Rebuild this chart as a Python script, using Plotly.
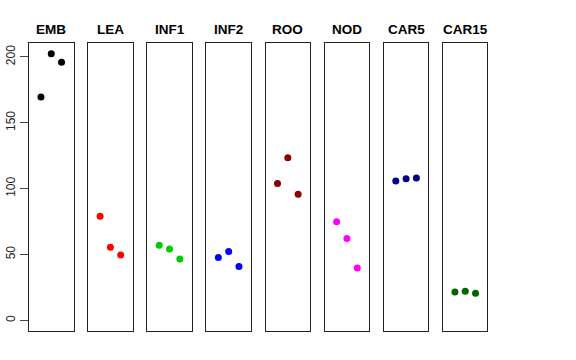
import plotly.graph_objects as go

groups = ["EMB", "LEA", "INF1", "INF2", "ROO", "NOD", "CAR5", "CAR15"]
colors = ["#000000", "#FF0000", "#00CD00", "#0000FF", "#8B0000", "#FF00FF", "#00008B", "#006400"]
xpos = [1, 2, 3]
values = {
    "EMB": [169.6, 202.5, 196.0],
    "LEA": [79.1, 55.5, 49.7],
    "INF1": [57.0, 54.2, 46.6],
    "INF2": [47.7, 52.2, 40.8],
    "ROO": [103.9, 123.4, 95.8],
    "NOD": [74.8, 62.1, 39.8],
    "CAR5": [105.9, 107.5, 108.0],
    "CAR15": [21.5, 22.0, 20.5],
}
yticks = [0, 50, 100, 150, 200]

W, H = 576, 360
fig = go.Figure()
layout = dict(width=W, height=H, margin=dict(l=0, r=0, t=0, b=0, autoexpand=False),
              paper_bgcolor="white", plot_bgcolor="white", showlegend=False,
              font=dict(family="Liberation Sans, Arial, sans-serif", color="black"))
annotations = []
ymax = max(max(v) for v in values.values())
yr = [-0.04 * ymax, 1.04 * ymax]
for i, g in enumerate(groups):
    n = "" if i == 0 else str(i + 1)
    left = 29 + 59.14 * i
    right = left + 44.5
    fig.add_trace(go.Scatter(x=xpos, y=values[g], mode="markers",
                             marker=dict(color=colors[i], size=7),
                             xaxis="x" + n, yaxis="y" + n))
    layout["xaxis" + n] = dict(domain=[left / W, right / W], range=[-0.16, 4.16],
                               showgrid=False, zeroline=False, showticklabels=False,
                               ticks="", showline=True, mirror=True, linecolor="#222",
                               linewidth=1, anchor="y" + n, fixedrange=True,
                               automargin=False)
    ya = dict(domain=[1 - 331 / H, 1 - 43 / H], range=yr, showgrid=False, zeroline=False,
              showline=True, mirror=True, linecolor="#222", linewidth=1,
              anchor="x" + n, fixedrange=True, automargin=False)
    if i == 0:
        ya.update(tickmode="array", tickvals=yticks, ticktext=[str(t) for t in yticks],
                  ticks="outside", ticklen=8, tickcolor="#444", tickangle=-90,
                  tickfont=dict(size=12, color="#222"))
    else:
        ya.update(showticklabels=False, ticks="")
    layout["yaxis" + n] = ya
    annotations.append(dict(text="<b>" + g + "</b>", x=(left + right) / 2 / W, y=1 - 29 / H,
                            xref="paper", yref="paper", showarrow=False,
                            xanchor="center", yanchor="middle",
                            font=dict(size=13.5, color="black")))
layout["annotations"] = annotations
fig.update_layout(**layout)
fig.write_html("out.html", config={"displayModeBar": False},
               post_script="document.body.style.margin='0';document.body.style.overflow='hidden';")
